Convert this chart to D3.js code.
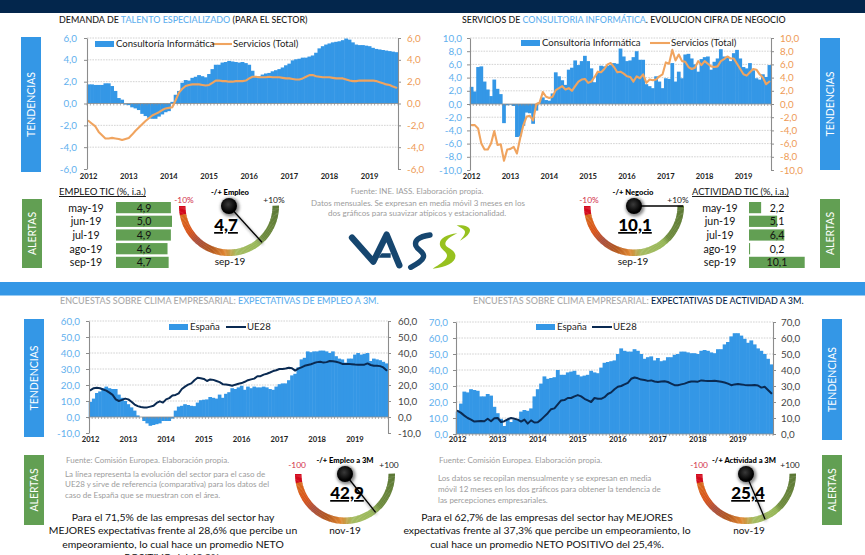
<!DOCTYPE html>
<html><head><meta charset="utf-8">
<script src="https://cdn.jsdelivr.net/npm/d3@7"></script>
<style>
html,body{margin:0;padding:0;background:#fff;overflow:hidden}
svg{display:block;font-family:Lato,"Open Sans",sans-serif}
</style></head><body><svg id="c" width="865" height="555"></svg>
<script>
// ---------- DATA ----------
const years = ["2012","2013","2014","2015","2016","2017","2018","2019"];
const talentoConsultoria = [1.75,1.75,1.7,1.7,1.7,1.85,1.85,1.6,1.15,0.5,0.35,-0.1,-0.15,-0.35,-0.45,-0.6,-0.95,-1.15,-1.3,-1.4,-1.4,-1.2,-1.0,-0.8,-0.7,0.15,0.8,1.15,1.9,2.15,2.1,2.35,2.45,2.6,2.5,2.4,2.7,3.15,3.55,3.55,3.75,3.8,3.9,3.85,3.8,3.75,3.8,3.7,3.55,3.0,2.5,2.5,2.65,2.75,2.8,2.95,3.05,3.15,3.3,3.5,3.65,3.95,4.05,4.1,4.2,4.2,4.3,4.4,4.65,5.05,5.25,5.4,5.5,5.6,5.65,5.7,5.8,5.95,5.85,5.6,5.4,5.35,5.35,5.3,5.25,5.1,5.0,4.95,4.9,4.85,4.8,4.75,4.7];
const talentoServicios = [-1.6,-1.85,-2.1,-2.6,-2.9,-3.2,-3.2,-3.15,-3.2,-3.25,-3.35,-3.25,-3.15,-2.85,-2.5,-2.2,-1.9,-1.6,-1.35,-1.1,-0.95,-0.8,-0.6,-0.45,-0.4,-0.35,0.3,1.0,1.35,1.6,1.7,1.75,1.75,1.75,1.7,1.65,1.7,1.9,2.1,2.1,2.05,2.05,2.0,2.0,2.05,2.05,2.05,2.1,2.3,2.45,2.45,2.4,2.4,2.4,2.45,2.4,2.4,2.4,2.35,2.3,2.3,2.25,2.2,2.2,2.3,2.45,2.6,2.6,2.5,2.45,2.4,2.4,2.4,2.35,2.3,2.3,2.3,2.2,2.1,2.05,2.05,2.1,2.1,2.1,2.1,2.1,2.05,1.95,1.85,1.75,1.7,1.55,1.45];
const negocioConsultoria = [2.6,1.9,5.6,5.7,3.4,2.2,1.2,3.7,2.3,1.5,-2.9,-0.2,-0.1,-0.3,-5.0,-4.9,-3.3,-1.3,-1.4,-3.0,-1.0,0.3,1.0,0.6,0.5,1.6,4.8,4.2,3.6,2.9,5.2,5.5,6.6,5.9,6.5,7.3,6.5,5.4,3.3,4.7,5.8,5.7,5.8,5.9,6.2,6.1,8.4,7.2,6.5,6.6,7.1,8.0,6.7,6.7,3.0,2.7,2.4,4.2,3.4,2.4,3.9,3.8,6.2,3.4,4.9,3.9,7.5,7.6,6.9,6.0,4.9,6.8,7.1,7.2,5.2,6.4,6.9,8.3,7.2,7.1,6.5,7.7,8.2,6.9,5.6,5.4,6.2,5.1,3.9,3.7,4.5,4.1,5.9];
const negocioServicios = [-3.2,-3.2,-3.7,-6.0,-6.9,-6.9,-6.0,-4.1,-6.2,-6.1,-8.6,-6.9,-6.8,-6.5,-7.5,-5.2,-3.2,-1.9,-1.8,-2.5,0,0.2,1.8,1.1,0.9,1.1,2.1,2.4,2.7,2.2,2.4,2.0,2.7,3.4,3.7,3.8,3.2,3.4,4.1,4.9,4.8,5.3,6.0,6.2,5.6,4.8,4.9,4.6,4.2,4.1,3.4,4.2,3.9,4.5,3.2,3.7,3.6,3.7,4.2,4.5,6.3,6.1,8.2,6.6,7.5,6.5,6.4,5.6,5.3,5.5,6.5,5.9,6.5,6.1,5.7,5.6,5.7,6.5,6.8,7.2,6.9,6.9,6.1,5.3,4.5,4.3,4.8,5.3,5.2,4.5,4.0,3.0,3.4];
const empleoEspana = [9.5,11.5,15,16,18,19,18,17.5,17.5,14,12,10,8,6,4,1,0,-2.5,-4,-5.5,-5,-4.5,-4,-2.5,-2.5,-2.5,-1,4,6.5,7,8,7.5,7,6.8,9,10.5,10.8,11,12.5,12,11.5,14,12,14.5,15.5,18,17.5,18.5,19.5,17,19,18,19,18.5,18.5,19,18.5,17.5,17,19,20.5,21,21,23,26,27,31,36,37,41,40.5,41,41,41.5,41.5,41,40,41,38,36.5,36,34,36.5,36.5,39,40,39,39.5,40,35,36.5,36,35.5,34.5,33.5];
const empleoUE = [16.8,18,18.3,18,17.2,16.5,15.2,13.8,11,10,10.7,11.5,11,9.5,7.8,6.8,6.2,6,6,6.5,7,8.8,9.8,9,11,11.8,13.5,13.8,14.8,17.5,19,20.2,21,23,24.5,24.2,23.8,22.5,23.5,23.2,22.5,21.8,20.5,20.3,20,19.5,20.2,20.8,21.2,22,23,23.5,24,25.5,25.5,26.5,27,27.8,28.7,29.2,30,30,30.3,30.8,30.5,29,30.2,31,32,32.5,33,33.7,34.3,34.5,34,34.3,35,34.8,34.5,34,33.2,33.2,33.2,33,32.8,32.7,32.7,32.7,33.5,32.5,32,32,31.8,31,29.2];
const actividadEspana = [14,19,26.5,26,28,27.5,27,23.5,23.5,25,24,17,13,9.5,5,9,7.5,9,9,14,15,14.5,16,23.5,28,31.5,36,34.5,35,35.5,40,37,37,38.5,39,39.5,37,36,36.5,37,39.5,38.5,38,41.5,44.5,45,45.5,46,50,53.5,52,51.5,51.5,53,52,50,47,48,48.5,46,47.5,45.5,46,48,48,49.5,50,51.5,51.5,51,50.5,50.5,50,52,52.5,52,51,50.5,53,53,56,57.5,61,63,63,61.5,59.5,57,58.5,56,53.5,52,50,47,43.5];
const actividadUE = [14.5,13.2,11.5,10,9,7.8,8,8.2,8,9.5,8,9.8,10,7.5,8,9.2,10,9.5,9,7.8,9,6.5,8.5,7.2,7.3,9,11,13,15.5,16,18.5,21,21.2,22.5,22.5,23.5,24.3,23.5,22,21,20,22.5,22,22,23,25,26,28,29.5,30,31,32,34.5,35.3,34.8,34,33.8,33.2,33.5,32.8,32.5,32.8,33,32.5,31.5,30.5,30.5,31,31.5,32.3,32.8,32.8,32.7,33.5,33.3,33.2,33.2,33.3,33,32.6,32.2,31.5,30.5,31,31.3,31,30.7,30.5,30.5,30.6,30.3,29,29.5,27.5,25.5];
const ticksTalento = [-6,-4,-2,0,2,4,6];
const ticksNegocio = [-10,-8,-6,-4,-2,0,2,4,6,8,10];
const ticksEmpleo = [-10,0,10,20,30,40,50,60];
const ticksActividad = [0,10,20,30,40,50,60,70];
const tableMonths = ["may-19","jun-19","jul-19","ago-19","sep-19"];
const empleoTic = [4.9,5.0,4.9,4.6,4.7];
const actividadTic = [2.2,5.1,6.4,0.2,10.1];
const gaugeStops = [0,0.055,0.06,0.18,0.27,0.38,0.47,0.55,0.72,0.76,1];
const gaugeColors = ["#d3091c","#d3091c","#d76a1c","#d9541a","#a9503e","#b4591e","#e08632","#a6bc62","#96b758","#6f8c3e","#5c7836"];

// ---------- COLOURS ----------
const BLUE="#3497e6", NAVY="#03264c", ORANGE="#f0a45f", GREEN="#629f53", SKY="#5fb0ee", GREY="#9c9c9c", AX="#8c8c8c", INK="#1a1a1a";
const svg=d3.select("#c");
const fmt=d=>d.toFixed(1).replace(".",",");
const defs=svg.append("defs");
const rg=defs.append("radialGradient").attr("id","knob").attr("cx","45%").attr("cy","40%");
rg.append("stop").attr("offset","0").attr("stop-color","#3a3a3a");
rg.append("stop").attr("offset","1").attr("stop-color","#000");
defs.append("filter").attr("id","soft").attr("x","-50%").attr("y","-50%").attr("width","200%").attr("height","200%")
  .append("feGaussianBlur").attr("stdDeviation",1.6);

function txt(s,x,y,o={}){
  const t=svg.append("text").attr("x",x).attr("y",y)
    .attr("font-size",o.size||10).attr("fill",o.fill||INK)
    .attr("text-anchor",o.anchor||"start").attr("font-weight",o.weight||400);
  if(o.underline)t.attr("text-decoration","underline");
  (Array.isArray(s)?s:[[s,o.fill||INK]]).forEach(p=>t.append("tspan").attr("fill",p[1]).text(p[0]));
  if(o.width){const len=t.node().getComputedTextLength();t.attr("font-size",(o.size||10)*o.width/len);}
  return t;
}
function sideBox(x,y,w,h,col,label){
  svg.append("rect").attr("x",x).attr("y",y).attr("width",w).attr("height",h).attr("fill",col);
  svg.append("text").attr("transform",`translate(${x+w/2+3.5},${y+h/2}) rotate(-90)`)
    .attr("text-anchor","middle").attr("fill","#fff").attr("font-size",10.5).text(label);
}
// bands
svg.append("rect").attr("width",865).attr("height",13).attr("fill",NAVY);
svg.append("rect").attr("y",282).attr("width",865).attr("height",13.5).attr("fill",BLUE);

function chart(o){
  const n=o.bars.length;
  const x=d3.scaleBand().domain(d3.range(n)).range([o.x0,o.x1]);
  const y=d3.scaleLinear().domain(o.domain).range([o.y1,o.y0]);
  const g=svg.append("g");
  // grid
  g.selectAll("line.g").data(o.ticks.filter(t=>t!==0&&t!==o.domain[0])).join("line")
    .attr("x1",o.x0).attr("x2",o.x1).attr("y1",d=>y(d)).attr("y2",d=>y(d))
    .attr("stroke","#c6c6c6").attr("stroke-width",.8).attr("stroke-dasharray","1.6 1.1");
  // bars (slight overlap so that neighbouring months read as a solid area)
  g.selectAll("rect.b").data(o.bars).join("rect")
    .attr("x",(d,i)=>x(i)-.25).attr("width",x.bandwidth()+.5)
    .attr("y",d=>y(Math.max(0,d))).attr("height",d=>Math.abs(y(d)-y(0)))
    .attr("fill",BLUE);
  // zero line with monthly ticks
  g.append("line").attr("x1",o.x0).attr("x2",o.x1).attr("y1",y(0)).attr("y2",y(0)).attr("stroke",AX).attr("stroke-width",.8);
  g.selectAll("line.m").data(d3.range(n+1)).join("line")
    .attr("x1",d=>o.x0+d*x.bandwidth()).attr("x2",d=>o.x0+d*x.bandwidth())
    .attr("y1",y(0)).attr("y2",y(0)+2).attr("stroke",AX).attr("stroke-width",.7);
  // line
  const line=d3.line().x((d,i)=>x(i)+x.bandwidth()/2).y(d=>y(d));
  g.append("path").attr("d",line(o.line)).attr("fill","none").attr("stroke",o.lineColor)
    .attr("stroke-width",o.lineWidth).attr("stroke-linejoin","round").attr("stroke-linecap","round");
  // axes
  const L=g.append("g").attr("transform",`translate(${o.x0},0)`)
    .call(d3.axisLeft(y).tickValues(o.ticks).tickFormat(fmt).tickSize(3).tickSizeOuter(0).tickPadding(o.padL));
  const R=g.append("g").attr("transform",`translate(${o.x1},0)`)
    .call(d3.axisRight(y).tickValues(o.ticks).tickFormat(fmt).tickSize(3).tickSizeOuter(0).tickPadding(o.padR));
  [L,R].forEach(a=>{a.select(".domain").attr("stroke",AX).attr("stroke-width",1.1);a.selectAll(".tick line").attr("stroke",AX);a.selectAll("text").attr("font-size",o.tickSize||9.8).attr("font-family","Lato,sans-serif")});
  L.selectAll("text").attr("fill",SKY);
  R.selectAll("text").attr("fill",o.rightColor);
  const X=g.append("g").attr("transform",`translate(0,${o.xLabelY})`)
    .call(d3.axisBottom(x).tickValues(years.map((d,i)=>i*12)).tickFormat(i=>years[i/12]).tickSize(0).tickPadding(0));
  X.select(".domain").remove();
  X.selectAll("text").attr("font-size",7.6).attr("font-weight",700).attr("fill","#222").attr("font-family","Lato,sans-serif");
  // legend
  const l=o.legend;
  g.append("rect").attr("x",l.sx).attr("y",l.y-3).attr("width",19).attr("height",6).attr("fill",BLUE);
  txt(l.a,l.sx+21,l.y+3.3,{size:9.6,fill:"#222"});
  g.append("line").attr("x1",l.lx).attr("x2",l.lx+20).attr("y1",l.y).attr("y2",l.y).attr("stroke",o.lineColor).attr("stroke-width",o.lineWidth);
  txt(l.b,l.lx+21,l.y+3.3,{size:9.6,fill:"#222"});
}
chart({bars:talentoConsultoria,line:talentoServicios,x0:87,x1:398,y0:38,y1:169,domain:[-6,6],ticks:ticksTalento,padL:7,padR:6,
  lineColor:ORANGE,lineWidth:2.1,rightColor:"#ee9a55",xLabelY:174,legend:{sx:95,y:44,lx:212,a:"Consultoría Informática",b:"Servicios (Total)"}});
chart({bars:negocioConsultoria,line:negocioServicios,x0:470,x1:771,y0:38,y1:170,domain:[-10,10],ticks:ticksNegocio,padL:5,padR:6,
  lineColor:ORANGE,lineWidth:2.1,rightColor:"#ee9a55",xLabelY:174,legend:{sx:521,y:43,lx:650,a:"Consultoría Informática",b:"Servicios (Total)"}});
chart({bars:empleoEspana,line:empleoUE,x0:89,x1:388,y0:321,y1:433,domain:[-10,60],ticks:ticksEmpleo,padL:6,padR:7,
  lineColor:"#0a2a52",lineWidth:2,rightColor:"#444",xLabelY:437,legend:{sx:169,y:327,lx:226,a:"España",b:"UE28"}});
chart({bars:actividadEspana,line:actividadUE,x0:456,x1:773,y0:322,y1:434,domain:[0,70],ticks:ticksActividad,padL:5,padR:5,
  lineColor:"#0a2a52",lineWidth:2,rightColor:"#444",xLabelY:437,legend:{sx:536,y:327,lx:592,a:"España",b:"UE28"}});

// titles
txt([["DEMANDA DE ",INK],["TALENTO ESPECIALIZADO",SKY],[" (PARA EL SECTOR)",INK]],59,23,{size:10,width:249,weight:500});
txt([["SERVICIOS DE ",INK],["CONSULTORIA INFORMÁTICA",SKY],[". EVOLUCION CIFRA DE NEGOCIO",INK]],462,23,{size:10,width:324,weight:500});
txt([["ENCUESTAS SOBRE CLIMA EMPRESARIAL: ","#aaa"],["EXPECTATIVAS DE EMPLEO A 3M.",SKY]],60,304,{size:10,width:319,weight:500});
txt([["ENCUESTAS SOBRE CLIMA EMPRESARIAL: ","#aaa"],["EXPECTATIVAS DE ACTIVIDAD A 3M.",NAVY]],473,304,{size:10,width:331,weight:500});

// side boxes
sideBox(21,37,20,135,BLUE,"TENDENCIAS");
sideBox(820,38,20,132,BLUE,"TENDENCIAS");
sideBox(22,199,20,69,GREEN,"ALERTAS");
sideBox(820,199,20,69,GREEN,"ALERTAS");
sideBox(24,319,20,118,BLUE,"TENDENCIAS");
sideBox(822,319,20,121,BLUE,"TENDENCIAS");
sideBox(24,455,20,70,GREEN,"ALERTAS");
sideBox(822,455,20,70,GREEN,"ALERTAS");

// mini tables
function table(o){
  const y=d3.scaleBand().domain(tableMonths).range([202,268]).paddingInner(.18);
  const x=d3.scaleLinear().domain([0,o.max]).range([o.x,o.x+o.w]);
  txt(o.title,o.titleX,195,{size:10.8,underline:true,fill:"#111",width:o.titleW});
  o.values.forEach((v,i)=>{
    const m=tableMonths[i];
    svg.append("rect").attr("x",o.x).attr("y",y(m)).attr("width",x(v)-o.x).attr("height",y.bandwidth()).attr("fill",GREEN);
    txt(m,o.dateX,y(m)+9.7,{size:10.6,anchor:"middle",fill:"#111"});
    txt(fmt(v),o.valX,y(m)+9.7,{size:10.6,anchor:"middle",fill:"#111"});
  });
}
table({title:"EMPLEO TIC (%, i.a.)",titleX:59,titleW:87,values:empleoTic,x:116,max:5,w:56,dateX:86,valX:144});
table({title:"ACTIVIDAD TIC (%, i.a.)",titleX:692,titleW:97,values:actividadTic,x:749,max:10.1,w:55.7,dateX:720,valX:777});

// gauges
function gauge(o){
  const R=50,r=43.5;
  const t=d3.scaleLinear().domain(o.domain).range([0,1]).clamp(true);
  const col=d3.scaleLinear().domain(gaugeStops).range(gaugeColors);
  const g=svg.append("g").attr("transform",`translate(${o.cx},${o.cy})`);
  const arc=d3.arc().innerRadius(r).outerRadius(R);
  const seg=d3.range(120);
  // d3.arc angles run clockwise from 12 o'clock: the lower half goes from -90deg back through 180deg to +90deg
  g.selectAll("path").data(seg).join("path")
    .attr("d",i=>arc({startAngle:-Math.PI/2-i/120*Math.PI,endAngle:-Math.PI/2-(i+1.3)/120*Math.PI}))
    .attr("fill",i=>col((i+.5)/120));
  const a=Math.PI*t(o.value);
  const tx=-(R-1)*Math.cos(a), ty=(R-1)*Math.sin(a);
  g.append("line").attr("x1",1).attr("y1",2).attr("x2",tx+1).attr("y2",ty+2).attr("stroke","#777").attr("stroke-width",2.2).attr("opacity",.6).attr("filter","url(#soft)");
  g.append("circle").attr("cx",1).attr("cy",1).attr("r",9.5).attr("fill","#888").attr("filter","url(#soft)");
  txt(fmt(o.value),o.valX,o.valY,{size:17,weight:900,anchor:"middle",underline:true,fill:"#000"});
  g.append("line").attr("x1",0).attr("y1",0).attr("x2",tx).attr("y2",ty).attr("stroke","#000").attr("stroke-width",1.3);
  g.append("circle").attr("r",8).attr("fill","url(#knob)");
  txt(o.title,o.titleX,o.titleY,{size:7.6,weight:900,anchor:"middle",fill:"#000"});
  txt(o.low,o.lowX,o.lowY,{size:8.4,anchor:"middle",fill:"#d2304a"});
  txt(o.high,o.highX,o.lowY,{size:8.4,anchor:"middle",fill:"#222"});
  txt(o.date,o.dateX,o.dateY,{size:10,anchor:"middle",fill:"#111"});
}
gauge({cx:229,cy:206,domain:[-10,10],value:4.7,title:"-/+ Empleo",titleX:230,titleY:195,low:"-10%",lowX:184,lowY:203,high:"+10%",highX:274,valX:226,valY:231,date:"sep-19",dateX:230,dateY:265});
gauge({cx:634,cy:206,domain:[-10,10],value:10.1,title:"-/+ Negocio",titleX:633,titleY:195,low:"-10%",lowX:589,lowY:203,high:"+10%",highX:678,valX:635,valY:231,date:"sep-19",dateX:633,dateY:265});
gauge({cx:345,cy:474,domain:[-100,100],value:42.9,title:"-/+ Empleo a 3M",titleX:345,titleY:463,low:"-100",lowX:297,lowY:468,high:"+100",highX:389,valX:347,valY:499,date:"nov-19",dateX:345,dateY:534});
gauge({cx:746,cy:474,domain:[-100,100],value:25.4,title:"-/+ Actividad a 3M",titleX:744,titleY:463,low:"-100",lowX:699,lowY:468,high:"+100",highX:790,valX:748,valY:499,date:"nov-19",dateX:749,dateY:534});

// notes
const noteStyle={size:8,fill:GREY};
const mid={size:8,fill:GREY,anchor:"middle"};
txt("Fuente: INE. IASS. Elaboración propia.",417,194,mid);
txt("Datos mensuales. Se expresan en media móvil 3 meses  en los",418,206,mid);
txt("dos gráficos para suavizar atípicos y estacionalidad.",417,216,mid);
txt("Fuente: Comisión Europea. Elaboración propia.",66,463,noteStyle);
txt("La línea representa la evolución del sector para el caso de",65,477,noteStyle);
txt("UE28 y sirve de referencia (comparativa) para los datos del",65,487,noteStyle);
txt("caso de España que se muestran con el área.",65,498,noteStyle);
txt("Fuente: Comisión Europea. Elaboración propia.",439,463,noteStyle);
txt("Los datos se recopilan mensualmente y  se expresan en media",438,481,noteStyle);
txt("móvil 12 meses  en los dos gráficos para obtener la tendencia de",438,492,noteStyle);
txt("las percepciones empresariales.",438,503,noteStyle);

const para={size:10.4,anchor:"middle",fill:"#111"};
txt("Para el 71,5% de las empresas del sector hay",173,521,para);
txt("MEJORES expectativas frente al 28,6% que percibe un",173,534,para);
txt("empeoramiento, lo cual hace un promedio NETO",173,548,para);
txt("POSITIVO del 42,9%.",173,561,para);
txt("Para el 62,7% de las empresas del sector hay MEJORES",547,521,para);
txt("expectativas frente al 37,3% que percibe un empeoramiento, lo",547,534,para);
txt("cual hace un promedio NETO POSITIVO del 25,4%.",547,548,para);

// logo
const logo=svg.append("g").attr("transform","translate(340,220) scale(.3333)");
logo.append("path").attr("d","M36 53L100 125L140 44L178 136").attr("fill","none").attr("stroke","#16466f").attr("stroke-width",19).attr("stroke-linejoin","round").attr("stroke-linecap","round");
logo.append("path").attr("d","M125 100L152 100L152 113L115 113Z").attr("fill","#16466f");
logo.append("path").attr("d","M270 45C235 50 222 62 228 78C234 92 256 96 250 112C246 124 230 132 212 142").attr("fill","none").attr("stroke","#16466f").attr("stroke-width",16).attr("stroke-linecap","round");
logo.append("path").attr("d","M352 40C315 44 296 58 300 76C304 92 326 96 320 112C314 124 298 134 278 146C322 142 350 126 346 104C342 86 316 84 316 72C316 60 332 50 352 40Z").attr("fill","#97c11f");
logo.append("path").attr("d","M350 16C372 14 392 20 390 32C388 44 374 54 360 62C370 50 378 40 374 32C370 26 360 22 350 16Z").attr("fill","#97c11f");
</script></body></html>
